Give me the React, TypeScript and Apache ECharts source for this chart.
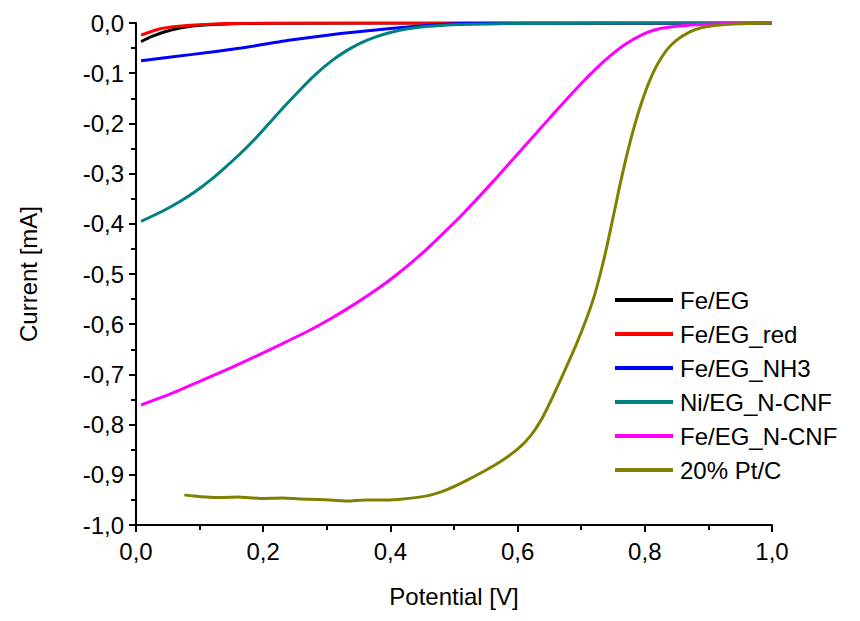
import React, { useEffect, useRef } from "react";
import * as echarts from "echarts";

const seriesNames = ["Fe/EG", "Fe/EG_red", "Fe/EG_NH3", "Ni/EG_N-CNF", "Fe/EG_N-CNF", "20% Pt/C"];
const seriesColors = ["#000000", "#ff0000", "#0000ff", "#008080", "#ff00ff", "#808000"];

const feEG_V = [0.008, 0.024, 0.055, 0.086, 0.134, 0.165, 0.25, 0.5, 0.75, 1.0];
const feEG_I = [-0.037, -0.027, -0.014, -0.0065, -0.0025, -0.001, -0.0003, 0, 0, 0];

const feEGred_V = [0.008, 0.04, 0.086, 0.15, 0.25, 0.5, 0.75, 1.0];
const feEGred_I = [-0.024, -0.011, -0.0045, -0.001, -0.0002, 0, 0, 0];

const feEGnh3_V = [0.008, 0.086, 0.165, 0.243, 0.322, 0.4, 0.463, 0.51, 0.6, 0.8, 1.0];
const feEGnh3_I = [-0.075, -0.063, -0.05, -0.034, -0.021, -0.011, -0.0045, -0.001, 0, 0, 0];

const niCNF_V = [0.008, 0.04, 0.071, 0.095, 0.118, 0.14, 0.165, 0.19, 0.212, 0.235, 0.259, 0.282, 0.306, 0.33, 0.353, 0.376, 0.4, 0.425, 0.448, 0.48, 0.51, 0.6, 0.8, 1.0];
const niCNF_I = [-0.395, -0.376, -0.354, -0.334, -0.312, -0.288, -0.259, -0.227, -0.196, -0.164, -0.132, -0.103, -0.077, -0.056, -0.04, -0.028, -0.019, -0.012, -0.008, -0.005, -0.003, -0.001, 0, 0];

const feCNF_V = [0.008, 0.058, 0.1, 0.149, 0.19, 0.228, 0.27, 0.306, 0.345, 0.385, 0.416, 0.448, 0.479, 0.515, 0.562, 0.605, 0.652, 0.699, 0.73, 0.746, 0.77, 0.793, 0.815, 0.84, 0.887, 0.93, 1.0];
const feCNF_I = [-0.761, -0.737, -0.714, -0.687, -0.663, -0.64, -0.614, -0.589, -0.559, -0.525, -0.495, -0.461, -0.424, -0.379, -0.315, -0.254, -0.187, -0.122, -0.083, -0.065, -0.042, -0.025, -0.014, -0.008, -0.003, -0.001, 0];

const ptC_V = [0.076, 0.09, 0.11, 0.134, 0.16, 0.196, 0.23, 0.259, 0.29, 0.333, 0.36, 0.395, 0.42, 0.448, 0.47, 0.49, 0.52, 0.55, 0.575, 0.6, 0.62, 0.637, 0.654, 0.675, 0.694, 0.708, 0.72, 0.73, 0.74, 0.75, 0.76, 0.77, 0.78, 0.79, 0.8, 0.81, 0.82, 0.835, 0.85, 0.87, 0.89, 0.914, 0.94, 0.966, 1.0];
const ptC_I = [-0.94, -0.942, -0.944, -0.945, -0.944, -0.947, -0.946, -0.948, -0.949, -0.952, -0.95, -0.95, -0.948, -0.944, -0.938, -0.929, -0.911, -0.891, -0.872, -0.849, -0.823, -0.791, -0.748, -0.69, -0.635, -0.59, -0.546, -0.5, -0.447, -0.388, -0.328, -0.272, -0.222, -0.178, -0.14, -0.108, -0.082, -0.053, -0.034, -0.018, -0.009, -0.0045, -0.002, -0.001, 0];

const potentials = [feEG_V, feEGred_V, feEGnh3_V, niCNF_V, feCNF_V, ptC_V];
const currents = [feEG_I, feEGred_I, feEGnh3_I, niCNF_I, feCNF_I, ptC_I];

const fmt = (v: number) => {
  const r = Math.round(v * 10) / 10;
  const s = (Math.abs(r) < 1e-9 ? 0 : r).toFixed(1);
  return s.replace(".", ",");
};

export default function App() {
  const ref = useRef<HTMLDivElement>(null);
  useEffect(() => {
    if (!ref.current) return;
    const chart = echarts.init(ref.current, null, { renderer: "svg" });
    const font = "Liberation Sans, Arial, sans-serif";
    chart.setOption({
      animation: false,
      backgroundColor: "#ffffff",
      textStyle: { fontFamily: font },
      grid: { left: 127, right: 80, top: 15, bottom: 80 },
      legend: {
        orient: "vertical",
        left: 602,
        top: 275,
        itemWidth: 58,
        itemHeight: 4,
        itemGap: 10,
        icon: "rect",
        textStyle: { fontSize: 24, color: "#000", fontFamily: font, padding: [0, 0, 0, 2] },
        data: seriesNames,
      },
      xAxis: {
        type: "value",
        min: 0,
        max: 1,
        interval: 0.2,
        name: "Potential [V]",
        nameLocation: "middle",
        nameGap: 59,
        nameTextStyle: { fontSize: 24, color: "#000", fontFamily: font },
        axisLine: { onZero: false, lineStyle: { color: "#000", width: 2 } },
        axisTick: { show: true, length: 7, lineStyle: { color: "#000", width: 2 } },
        minorTick: { show: true, splitNumber: 2, length: 5, lineStyle: { color: "#000", width: 2 } },
        splitLine: { show: false },
        axisLabel: { fontSize: 24, color: "#000", margin: 14, formatter: fmt, fontFamily: font },
      },
      yAxis: {
        type: "value",
        min: -1,
        max: 0,
        interval: 0.1,
        name: "Current [mA]",
        nameLocation: "middle",
        nameGap: 96,
        nameTextStyle: { fontSize: 24, color: "#000", fontFamily: font },
        axisLine: { onZero: false, lineStyle: { color: "#000", width: 2 } },
        axisTick: { show: true, length: 7, lineStyle: { color: "#000", width: 2 } },
        minorTick: { show: true, splitNumber: 2, length: 5, lineStyle: { color: "#000", width: 2 } },
        splitLine: { show: false },
        axisLabel: { fontSize: 24, color: "#000", margin: 12, formatter: fmt, fontFamily: font },
      },
      series: seriesNames.map((name, i) => ({
        name,
        type: "line",
        showSymbol: false,
        smooth: 0.2,
        color: seriesColors[i],
        lineStyle: { width: 3, color: seriesColors[i] },
        data: potentials[i].map((v, j) => [v, currents[i][j]]),
      })),
    });
    return () => chart.dispose();
  }, []);
  return <div ref={ref} style={{ width: 844, height: 605 }} />;
}
